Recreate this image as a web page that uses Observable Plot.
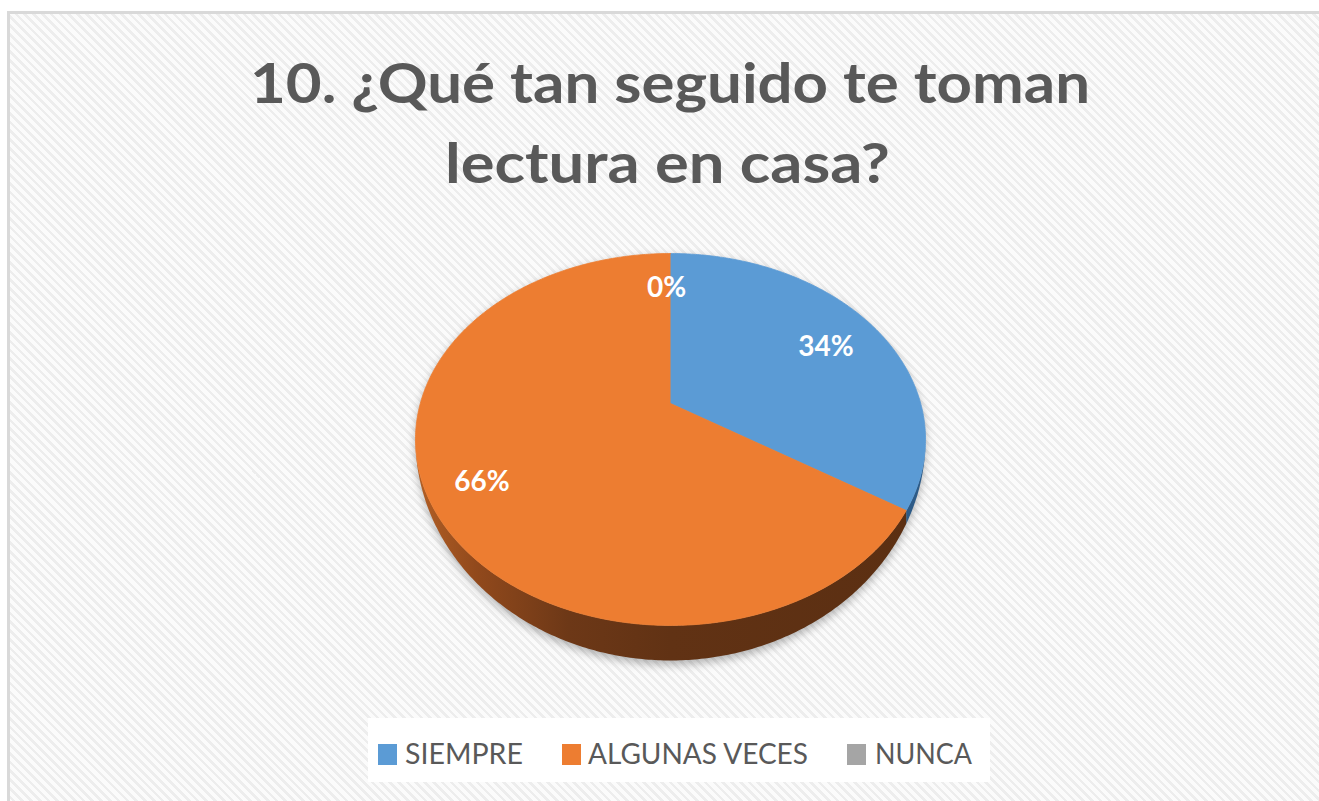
<!DOCTYPE html>
<html>
<head>
<meta charset="utf-8">
<script src="https://cdn.jsdelivr.net/npm/d3@7"></script>
<script src="https://cdn.jsdelivr.net/npm/@observablehq/plot@0.6"></script>
<style>
  html, body { margin: 0; padding: 0; background: #fff; }
  #wrap { position: relative; width: 1319px; height: 801px; overflow: hidden; background: #fff; }
  #frame {
    position: absolute; left: 7px; top: 11px; width: 1340px; height: 820px;
    border-left: 3px solid #d9d9d9; border-top: 3px solid #d9d9d9;
    background: repeating-linear-gradient(45deg, #ededed 0px, #ededed 2.6px, #fbfbfb 2.6px, #fbfbfb 6.2px);
  }
  #title { position: absolute; left: 0; top: 0; }
  #chart { position: absolute; left: 0; top: 200px; }
  #legend { position: absolute; left: 0; top: 710px; }
</style>
</head>
<body>
<div id="wrap">
  <div id="frame"></div>
  <div id="title"></div>
  <div id="chart"></div>
  <div id="legend"></div>
</div>
<script>
// ---------------- data ----------------
const titleLines = ["10. ¿Qué tan seguido te toman", "lectura en casa?"];
const categories = ["SIEMPRE", "ALGUNAS VECES", "NUNCA"];
const percents = [34, 66, 0];
const palette = ["#5b9bd5", "#ed7d31", "#a5a5a5"];
const sideShade = ["#2d5b87", "url(#sideOrange)", "#6e6e6e"];

// ---------------- 3D pie geometry (perspective tilt) ----------------
const TAU = Math.PI * 2;
const K = 0.1935;        // perspective strength
const DEPTH = 0.1577;    // thickness at the front, in y units
const LABEL_R = 0.78;

function dropAt(v) {
  return v > K ? DEPTH * Math.pow((v - K) / (1 - K), 1.0) : 0;
}
function proj(theta, r = 1, bottom = false, extra = 0) {
  const u = r * Math.sin(theta), v = -r * Math.cos(theta), w = 1 - K * v;
  const d = bottom ? dropAt(v) + extra : 0;
  return {x: u / w, y: (v + d) / w};
}

let cum = 0;
const slices = categories.map((cat, i) => {
  const a0 = cum / 100 * TAU;
  cum += percents[i];
  const a1 = cum / 100 * TAU;
  return {cat, i, a0, a1, label: percents[i] + "%"};
});

const topRows = [];
for (const s of slices) {
  if (s.a1 - s.a0 <= 0) continue;
  topRows.push({k: s.cat, cat: s.cat, ...proj(0, 0)});
  const n = Math.max(2, Math.ceil((s.a1 - s.a0) / 0.01));
  for (let j = 0; j <= n; j++) {
    const t = s.a0 + (s.a1 - s.a0) * j / n;
    topRows.push({k: s.cat, cat: s.cat, ...proj(t)});
  }
}

const tR = Math.acos(-K), tL = TAU - tR;
function sideRows(s) {
  const a = Math.max(s.a0, tR), b = Math.min(s.a1, tL);
  if (b <= a) return [];
  const rows = [];
  const n = Math.max(2, Math.ceil((b - a) / 0.01));
  for (let j = 0; j <= n; j++) rows.push(proj(a + (b - a) * j / n));
  for (let j = n; j >= 0; j--) rows.push(proj(a + (b - a) * j / n, 1, true));
  return rows;
}

const shadowRows = [];
for (let j = 0; j <= 400; j++) shadowRows.push(proj(j / 400 * TAU, 1, true, 0.02));

const labelRows = slices.map(s => ({label: s.label, ...proj((s.a0 + s.a1) / 2, LABEL_R)}));

// ---------------- title ----------------
{
  const svg = d3.create("svg").attr("width", 1319).attr("height", 200);
  const spec = [{x: 250, y: 103, len: 840}, {x: 445, y: 183, len: 445}];
  titleLines.forEach((t, i) => {
    svg.append("text")
      .attr("x", spec[i].x).attr("y", spec[i].y)
      .attr("textLength", spec[i].len).attr("lengthAdjust", "spacingAndGlyphs")
      .attr("font-family", "Lato, 'Open Sans', sans-serif")
      .attr("font-weight", "bold").attr("font-size", 56)
      .attr("fill", "#595959")
      .text(t);
  });
  document.getElementById("title").appendChild(svg.node());
}

// ---------------- pie ----------------
const chart = Plot.plot({
  width: 1319,
  height: 500,
  x: {domain: [-1, 1], range: [670 - 250.2, 670 + 250.2], axis: null},
  y: {domain: [-1, 1], range: [24, 382], axis: null},
  color: {domain: categories, range: palette},
  style: {background: "transparent", overflow: "visible"},
  marks: [
    Plot.line(shadowRows, {x: "x", y: "y", fill: "#000", fillOpacity: 0.28, stroke: "none"}),
    ...slices.map(s => Plot.line(sideRows(s), {x: "x", y: "y", fill: sideShade[s.i], stroke: "none"})),
    Plot.line(topRows, {x: "x", y: "y", z: "k", fill: "cat", stroke: "cat", strokeWidth: 0.8}),
    Plot.text(labelRows, {
      x: "x", y: "y", text: "label", fill: "white", dx: -4, dy: 6,
      fontWeight: "bold", fontSize: 28, fontFamily: "Lato, 'Open Sans', sans-serif"
    })
  ]
});

{
  const svg = d3.select(chart);
  const defs = svg.insert("defs", ":first-child");
  const g = defs.append("linearGradient").attr("id", "sideOrange")
    .attr("gradientUnits", "userSpaceOnUse")
    .attr("x1", 415).attr("x2", 925).attr("y1", 0).attr("y2", 0);
  [[0, "#b35f25"], [0.12, "#91491c"], [0.3, "#6d3817"], [0.5, "#613214"], [1, "#5b2f12"]]
    .forEach(([o, c]) => g.append("stop").attr("offset", o).attr("stop-color", c));
  defs.append("filter").attr("id", "pieShadow")
    .attr("x", "-20%").attr("y", "-20%").attr("width", "140%").attr("height", "140%")
    .append("feGaussianBlur").attr("stdDeviation", 4);
  const first = chart.querySelector('g[aria-label="line"]');
  if (first) first.setAttribute("filter", "url(#pieShadow)");
}
document.getElementById("chart").appendChild(chart);

// ---------------- legend ----------------
{
  const svg = d3.create("svg").attr("width", 1319).attr("height", 91);
  svg.append("rect").attr("x", 368).attr("y", 8).attr("width", 622).attr("height", 64).attr("fill", "#ffffff");
  const layout = [{sx: 378, tx: 405, len: 118}, {sx: 562, tx: 588, len: 220}, {sx: 847, tx: 875, len: 97}];
  categories.forEach((c, i) => {
    svg.append("rect").attr("x", layout[i].sx).attr("y", 34).attr("width", 19).attr("height", 21).attr("fill", palette[i]);
    svg.append("text").attr("x", layout[i].tx).attr("y", 54)
      .attr("textLength", layout[i].len).attr("lengthAdjust", "spacingAndGlyphs")
      .attr("font-family", "Lato, 'Open Sans', sans-serif").attr("font-size", 29)
      .attr("fill", "#595959").text(c);
  });
  document.getElementById("legend").appendChild(svg.node());
}
</script>
</body>
</html>
